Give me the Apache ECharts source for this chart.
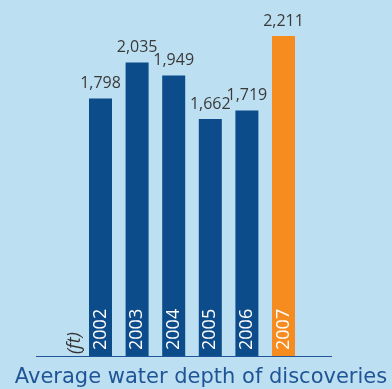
<!DOCTYPE html>
<html>
<head>
<meta charset="utf-8">
<style>
  html, body { margin: 0; padding: 0; background: #bddff2; }
  #chart { width: 392px; height: 389px; }
</style>
<script src="https://cdn.jsdelivr.net/npm/echarts@6/dist/echarts.min.js"></script>
</head>
<body>
<div id="chart"></div>
<script>
// Average water depth of discoveries, in feet
const years = ['2002', '2003', '2004', '2005', '2006', '2007'];
const depths = [1798, 2035, 1949, 1662, 1719, 2211];
const highlightYear = '2007';

const blue = '#0d4c8a';
const orange = '#f68b1f';
const navy = '#1f5596';

const chart = echarts.init(document.getElementById('chart'), null, { renderer: 'canvas' });

chart.setOption({
  backgroundColor: '#bddff2',
  animation: false,
  grid: { left: 82.2, right: 90.2, top: 36, bottom: 32, containLabel: false },
  xAxis: {
    type: 'category',
    data: years,
    z: 10,
    axisLine: { show: false },
    axisTick: { show: false },
    axisLabel: {
      inside: true,
      rotate: 90,
      margin: 7,
      color: '#ffffff',
      fontSize: 18,
      fontFamily: 'Open Sans'
    }
  },
  yAxis: {
    type: 'value',
    min: 88,
    max: 2211,
    show: false,
    splitLine: { show: false }
  },
  series: [{
    type: 'bar',
    barWidth: 23,
    data: depths.map((v, i) => ({
      value: v,
      itemStyle: { color: years[i] === highlightYear ? orange : blue }
    })),
    label: {
      show: true,
      position: 'top',
      distance: 7,
      color: '#3a3a3a',
      fontSize: 16,
      fontFamily: 'Open Sans',
      formatter: p => p.value.toLocaleString('en-US')
    },
    z: 2
  }],
  graphic: [
    {
      type: 'line',
      shape: { x1: 36, y1: 356.5, x2: 332, y2: 356.5 },
      style: { stroke: navy, lineWidth: 1 },
      z: 10
    },
    {
      type: 'text',
      x: 84,
      y: 354,
      rotation: Math.PI / 2,
      style: {
        text: '(ft)',
        fill: '#333333',
        font: 'italic 18px "Open Sans"',
        align: 'left',
        verticalAlign: 'bottom'
      }
    },
    {
      type: 'text',
      x: 201,
      y: 388,
      style: {
        text: 'Average water depth of discoveries',
        fill: navy,
        font: '21px "DejaVu Sans"',
        align: 'center',
        verticalAlign: 'bottom'
      }
    }
  ]
});
</script>
</body>
</html>
